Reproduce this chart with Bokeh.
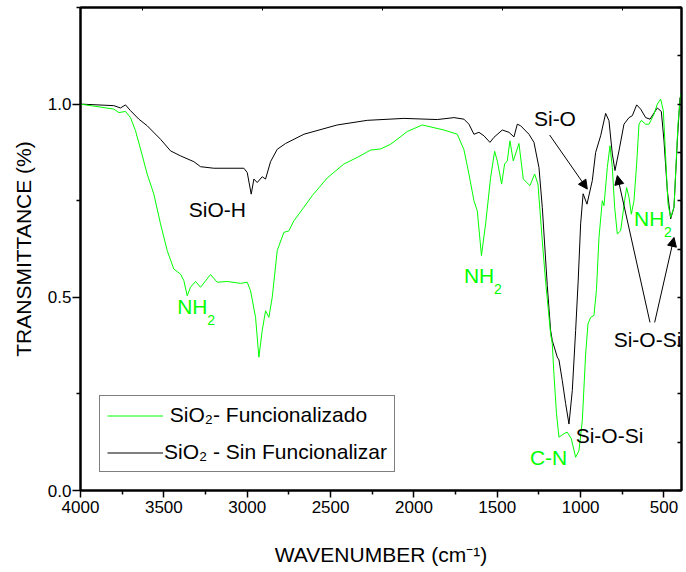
from bokeh.plotting import figure
from bokeh.models import (Range1d, LinearAxis, FixedTicker, Legend, LegendItem,
                          Arrow, NormalHead, ColumnDataSource)
from bokeh.core.properties import value
from bokeh.embed import file_html
from bokeh.resources import INLINE

FONT = "Liberation Sans"
GREEN = "#00ff00"

# --- data ---
wn_sin = [4000, 3800, 3760, 3730, 3700, 3650, 3600, 3520, 3460, 3400, 3320, 3280,
          3200, 3020, 3000, 2976, 2960, 2940, 2910, 2890, 2860, 2820, 2770, 2660,
          2460, 2280, 2060, 1860, 1760, 1700, 1670, 1640, 1610, 1580, 1544, 1520,
          1470, 1430, 1400, 1380, 1360, 1310, 1280, 1250, 1230, 1200, 1180, 1170,
          1140, 1130, 1110, 1090, 1070, 1050, 1030, 1015, 1000, 985, 962, 930,
          910, 880, 850, 830, 810, 794, 770, 740, 710, 690, 664, 640, 610, 584,
          540, 516, 500, 480, 460, 440, 420, 404]
t_sin = [1.000, 0.996, 0.990, 0.998, 0.983, 0.961, 0.944, 0.909, 0.879, 0.866, 0.851, 0.838,
         0.834, 0.834, 0.823, 0.767, 0.806, 0.797, 0.812, 0.806, 0.851, 0.883, 0.898, 0.922,
         0.946, 0.958, 0.963, 0.960, 0.965, 0.961, 0.948, 0.922, 0.927, 0.918, 0.901, 0.914,
         0.933, 0.927, 0.915, 0.948, 0.944, 0.922, 0.901, 0.836, 0.733, 0.530, 0.414, 0.388,
         0.345, 0.338, 0.284, 0.225, 0.172, 0.259, 0.414, 0.540, 0.690, 0.768, 0.741, 0.802,
         0.875, 0.918, 0.976, 0.957, 0.871, 0.828, 0.879, 0.948, 0.965, 0.970, 0.998, 0.987,
         0.965, 0.961, 0.990, 0.981, 0.905, 0.776, 0.703, 0.733, 0.905, 1.017]

wn_fun = [4000, 3800, 3770, 3730, 3700, 3670, 3640, 3600, 3560, 3520, 3480, 3440,
          3400, 3380, 3360, 3340, 3310, 3280, 3220, 3180, 3120, 3040, 3000, 2980,
          2950, 2930, 2910, 2890, 2870, 2850, 2835, 2820, 2780, 2750, 2720, 2660,
          2610, 2520, 2420, 2340, 2260, 2200, 2140, 2040, 1950, 1820, 1740, 1700,
          1670, 1640, 1620, 1595, 1570, 1540, 1516, 1500, 1474, 1456, 1440, 1424,
          1404, 1370, 1344, 1304, 1276, 1256, 1230, 1210, 1180, 1170, 1160, 1145,
          1130, 1100, 1080, 1056, 1030, 1010, 990, 970, 956, 940, 920, 905,
          890, 870, 860, 840, 824, 810, 796, 780, 760, 736, 724, 710,
          696, 680, 664, 650, 636, 610, 590, 560, 540, 520, 504, 490,
          476, 460, 440, 416, 400]
t_fun = [1.000, 0.987, 0.978, 0.981, 0.965, 0.931, 0.884, 0.819, 0.767, 0.690, 0.621, 0.573,
         0.560, 0.543, 0.504, 0.526, 0.541, 0.526, 0.559, 0.539, 0.541, 0.536, 0.539, 0.517,
         0.448, 0.345, 0.414, 0.465, 0.448, 0.500, 0.560, 0.621, 0.668, 0.672, 0.698, 0.733,
         0.763, 0.809, 0.845, 0.862, 0.881, 0.884, 0.896, 0.929, 0.946, 0.933, 0.922, 0.882,
         0.819, 0.750, 0.724, 0.608, 0.690, 0.810, 0.878, 0.853, 0.793, 0.845, 0.853, 0.905,
         0.853, 0.898, 0.806, 0.789, 0.819, 0.793, 0.646, 0.540, 0.405, 0.379, 0.300, 0.200,
         0.138, 0.147, 0.151, 0.134, 0.086, 0.103, 0.181, 0.353, 0.431, 0.448, 0.453, 0.520,
         0.655, 0.750, 0.737, 0.836, 0.892, 0.836, 0.733, 0.664, 0.672, 0.750, 0.784, 0.759,
         0.715, 0.750, 0.845, 0.948, 0.958, 0.948, 0.948, 0.974, 1.000, 1.013, 0.983, 0.862,
         0.741, 0.707, 0.733, 0.948, 1.026]

x_major = [4000, 3500, 3000, 2500, 2000, 1500, 1000, 500]
x_minor = [3750, 3250, 2750, 2250, 1750, 1250, 750]
y_major = [0.0, 0.5, 1.0]
y_minor = [0.25, 0.75, 1.25]
y_labels = ["0.0", "0.5", "1.0"]
top_ticks = [3630, 2910, 2190, 1470, 750]
right_ticks = [0.0, 0.125, 0.25, 0.375, 0.5, 0.625, 0.75, 0.875, 1.0, 1.125, 1.25]

legend_labels = ["\u00a0SiO\u2082- Funcionalizado", "SiO\u2082 - Sin Funcionalizar"]

ann_text = ["SiO-H", "NH", "NH", "Si-O", "NH", "Si-O-Si", "Si-O-Si", "C-N"]
ann_wn = [3350, 3420, 1700, 1280, 680, 802, 1030, 1304]
ann_t = [0.727, 0.476, 0.556, 0.963, 0.703, 0.392, 0.142, 0.086]
ann_color = ["black", GREEN, GREEN, "black", GREEN, "black", "black", GREEN]

sub_text = ["2", "2", "2"]
sub_wn = [3420, 1700, 680]
sub_t = [0.476, 0.556, 0.703]

arr_x0 = [1186, 584, 556]
arr_y0 = [0.92, 0.435, 0.435]
arr_x1 = [960, 780, 440]
arr_y1 = [0.78, 0.815, 0.655]

# --- figure ---
p = figure(frame_width=601, frame_height=483,
           x_range=Range1d(4000, 395), y_range=Range1d(0, 1.25),
           output_backend="svg", toolbar_location=None,
           min_border_left=80, min_border_right=4, min_border_top=7, min_border_bottom=80,
           x_axis_label="WAVENUMBER (cm\u207b\u00b9)", y_axis_label="TRANSMITTANCE (%)")
p.background_fill_color = "white"
p.border_fill_color = "white"
p.outline_line_color = "black"
p.outline_line_width = 2
p.xgrid.visible = False
p.ygrid.visible = False

xa = p.xaxis[0]
xa.ticker = FixedTicker(ticks=x_major, minor_ticks=x_minor)
xa.major_tick_out = 7
xa.major_tick_in = 0
xa.minor_tick_out = 4
xa.minor_tick_in = 0
xa.major_label_standoff = 3
xa.axis_label_standoff = 27

ya = p.yaxis[0]
ya.ticker = FixedTicker(ticks=y_major, minor_ticks=y_minor)
ya.major_label_overrides = {t: s for t, s in zip(y_major, y_labels)}
ya.major_tick_out = 8
ya.major_tick_in = 0
ya.minor_tick_out = 4
ya.minor_tick_in = 0
ya.major_label_standoff = 1
ya.axis_label_standoff = 10

for ax in (xa, ya):
    ax.axis_line_width = 2
    ax.major_tick_line_width = 1.5
    ax.minor_tick_line_width = 1.5
    ax.major_label_text_font = FONT
    ax.major_label_text_font_size = "17px"
    ax.major_label_text_color = "black"
    ax.axis_label_text_font = FONT
    ax.axis_label_text_font_size = "21px"
    ax.axis_label_text_font_style = "normal"
    ax.axis_label_text_color = "black"

top = LinearAxis(ticker=FixedTicker(ticks=top_ticks, minor_ticks=[]),
                 major_tick_in=3, major_tick_out=0, minor_tick_in=0, minor_tick_out=0,
                 major_label_text_font_size="0px", major_label_standoff=0,
                 axis_line_width=2, major_tick_line_width=1)
top.major_label_overrides = {t: "" for t in top_ticks}
p.add_layout(top, "above")

right = LinearAxis(ticker=FixedTicker(ticks=right_ticks, minor_ticks=[]),
                   major_tick_in=4, major_tick_out=0, minor_tick_in=0, minor_tick_out=0,
                   major_label_text_font_size="0px", major_label_standoff=0,
                   axis_line_width=2, major_tick_line_width=1.5)
right.major_label_overrides = {t: "" for t in right_ticks}
p.add_layout(right, "right")

r_sin = p.line(wn_sin, t_sin, line_color="black", line_width=1)
r_fun = p.line(wn_fun, t_fun, line_color=GREEN, line_width=1)

ann_src = ColumnDataSource(dict(x=ann_wn, y=ann_t, text=ann_text, color=ann_color))
p.text(x="x", y="y", text="text", text_color="color", source=ann_src,
       text_font=value(FONT), text_font_size=value("21px"),
       text_align="left", text_baseline="middle")

sub_src = ColumnDataSource(dict(x=sub_wn, y=sub_t, text=sub_text))
p.text(x="x", y="y", text="text", text_color=GREEN, source=sub_src,
       text_font=value(FONT), text_font_size=value("14px"),
       text_align="left", text_baseline="middle", x_offset=30, y_offset=13)

arr_src = ColumnDataSource(dict(x0=arr_x0, y0=arr_y0, x1=arr_x1, y1=arr_y1))
p.add_layout(Arrow(end=NormalHead(size=9, line_color="black", fill_color="black", line_width=1),
                   x_start="x0", y_start="y0", x_end="x1", y_end="y1",
                   line_color="black", line_width=1, source=arr_src))

legend = Legend(items=[LegendItem(label=legend_labels[0], renderers=[r_fun]),
                       LegendItem(label=legend_labels[1], renderers=[r_sin])],
                location=(19, 18), margin=0, padding=7, spacing=13,
                glyph_width=56, glyph_height=23, label_height=23, label_standoff=1,
                label_text_font=FONT, label_text_font_size="21px", label_text_color="black",
                border_line_color="black", border_line_width=1, background_fill_color="white",
                background_fill_alpha=1)
p.add_layout(legend)

open("out.html", "w").write(file_html(p, INLINE))
